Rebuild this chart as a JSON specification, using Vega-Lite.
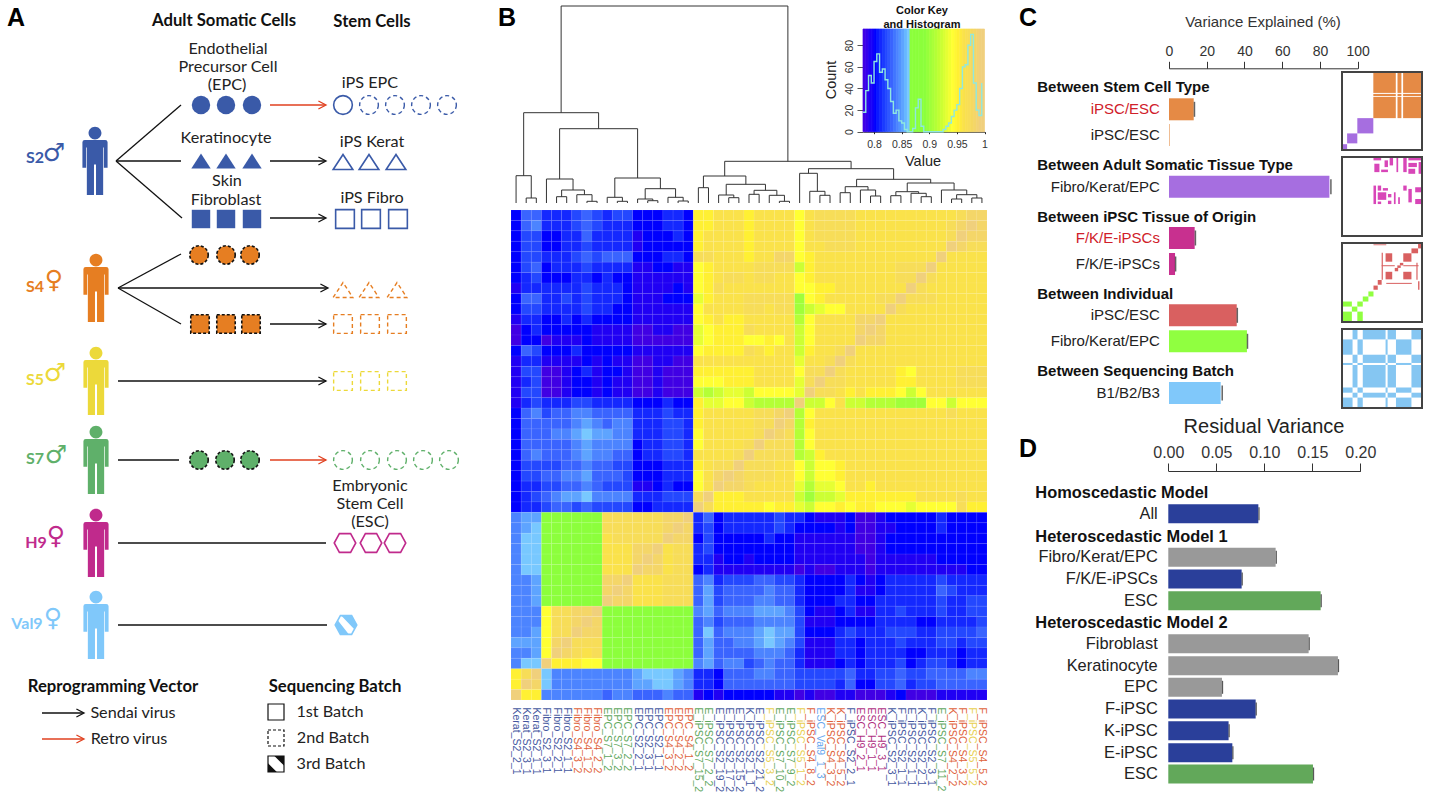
{"$schema":"https://vega.github.io/schema/vega-lite/v6.json","width":1430,"height":800,"padding":0,"autosize":{"type":"none"},"background":"white","config":{"view":{"stroke":null},"legend":{"disable":true}},
"datasets":{
"samples":[{"i":1,"sample":"Kerat_S2_2_1"},{"i":2,"sample":"Kerat_S2_3_1"},{"i":3,"sample":"Kerat_S2_1_1"},{"i":4,"sample":"Fibro_S2_3_1"},{"i":5,"sample":"Fibro_S2_2_1"},{"i":6,"sample":"Fibro_S2_1_1"},{"i":7,"sample":"Fibro_S4_3_2"},{"i":8,"sample":"Fibro_S4_1_2"},{"i":9,"sample":"Fibro_S4_2_2"},{"i":10,"sample":"EPC_S7_1_2"},{"i":11,"sample":"EPC_S7_3_2"},{"i":12,"sample":"EPC_S7_2_2"},{"i":13,"sample":"EPC_S2_2_1"},{"i":14,"sample":"EPC_S2_3_1"},{"i":15,"sample":"EPC_S2_1_1"},{"i":16,"sample":"EPC_S4_3_2"},{"i":17,"sample":"EPC_S4_2_2"},{"i":18,"sample":"EPC_S4_1_2"},{"i":19,"sample":"E_iPSC_S7_15_2"},{"i":20,"sample":"E_iPSC_S7_2_2"},{"i":21,"sample":"E_iPSC_S2_19_2"},{"i":22,"sample":"E_iPSC_S2_17_2"},{"i":23,"sample":"E_iPSC_S2_15_2"},{"i":24,"sample":"K_iPSC_S2_1_1"},{"i":25,"sample":"E_iPSC_S2_21_2"},{"i":26,"sample":"F_iPSC_S5_3_2"},{"i":27,"sample":"E_iPSC_S7_10_2"},{"i":28,"sample":"E_iPSC_S7_9_2"},{"i":29,"sample":"F_iPSC_S5_1_2"},{"i":30,"sample":"F_iPSC_S4_8_2"},{"i":31,"sample":"ESC_Val9_1_3"},{"i":32,"sample":"K_iPSC_S4_3_2"},{"i":33,"sample":"K_iPSC_S4_5_2"},{"i":34,"sample":"F_iPSC_S2_2_1"},{"i":35,"sample":"ESC_H9_2_1"},{"i":36,"sample":"ESC_H9_1_1"},{"i":37,"sample":"ESC_H9_3_1"},{"i":38,"sample":"K_iPSC_S2_3_1"},{"i":39,"sample":"F_iPSC_S2_1_1"},{"i":40,"sample":"E_iPSC_S2_1_1"},{"i":41,"sample":"K_iPSC_S2_2_1"},{"i":42,"sample":"F_iPSC_S2_3_1"},{"i":43,"sample":"E_iPSC_S7_11_2"},{"i":44,"sample":"K_iPSC_S4_2_2"},{"i":45,"sample":"F_iPSC_S4_3_2"},{"i":46,"sample":"F_iPSC_S5_5_2"},{"i":47,"sample":"F_iPSC_S4_5_2"}],
"heat":[
{"r":0,"v":[80,83,83,81,81,81,82,83,82,81,82,82,80,80,80,81,81,80,95,95,96,96,96,95,96,96,96,96,94,96,97,97,97,97,96,96,96,96,96,96,96,96,96,96,97,98,98]},
{"r":1,"v":[80,83,84,81,81,81,82,83,82,81,81,81,80,80,80,81,81,80,95,95,96,96,96,95,96,96,96,96,94,96,97,97,97,97,96,96,96,96,96,96,96,96,96,97,98,99,98]},
{"r":2,"v":[80,82,82,80,80,81,81,83,81,81,81,81,79,80,80,80,81,80,95,96,96,96,96,95,96,96,96,96,94,96,97,97,97,97,96,96,96,96,96,96,96,96,96,97,99,98,98]},
{"r":3,"v":[80,82,82,80,80,81,81,82,81,81,81,81,79,80,80,80,80,80,95,96,96,96,96,95,96,96,96,96,94,96,96,97,97,97,96,96,96,96,96,96,96,96,96,99,98,97,97]},
{"r":4,"v":[80,82,82,81,81,81,82,83,82,83,83,83,80,80,80,81,81,80,97,97,96,96,96,95,96,96,98,98,94,95,96,96,96,96,96,96,96,96,96,96,96,96,99,96,96,96,96]},
{"r":5,"v":[80,82,83,80,81,81,81,82,81,81,81,81,79,79,80,80,79,79,94,95,96,96,96,96,97,97,97,97,92,95,96,96,96,96,96,96,96,96,97,97,97,99,96,96,96,96,96]},
{"r":6,"v":[80,81,82,80,80,80,81,81,80,81,80,80,79,79,79,79,79,79,94,95,96,97,97,96,97,97,96,96,94,95,96,96,96,96,96,96,96,96,97,97,99,97,96,96,96,96,96]},
{"r":7,"v":[79,81,81,81,81,81,81,82,81,81,81,80,79,79,79,79,80,79,94,95,97,96,96,96,96,96,96,96,94,94,95,95,96,96,96,96,96,96,96,99,97,96,96,96,96,96,96]},
{"r":8,"v":[80,83,83,81,81,82,81,82,81,81,81,80,79,79,79,80,80,80,93,95,96,96,96,97,97,97,97,97,90,94,95,96,96,96,96,96,97,97,99,97,97,97,96,96,96,96,96]},
{"r":9,"v":[80,82,82,81,81,81,81,82,81,81,80,80,79,79,79,79,79,79,94,96,96,96,96,97,97,96,97,97,90,92,93,94,94,96,96,96,96,99,97,96,96,96,96,96,96,96,96]},
{"r":10,"v":[79,81,81,80,80,81,80,81,80,80,80,80,79,79,79,79,79,79,94,95,96,95,95,96,96,96,96,96,91,94,96,96,96,96,98,98,99,96,96,96,96,96,96,96,96,96,96]},
{"r":11,"v":[78,80,81,80,80,80,80,80,79,79,79,79,78,78,79,79,78,78,93,94,95,95,95,97,96,96,96,96,92,94,96,96,96,96,98,99,98,96,96,96,96,96,96,96,96,96,96]},
{"r":12,"v":[78,80,80,78,79,79,79,80,79,79,79,79,78,78,78,78,78,78,93,94,95,95,95,94,94,95,94,96,92,94,96,96,96,96,99,98,98,96,96,96,96,96,96,96,96,96,96]},
{"r":13,"v":[80,83,82,80,80,80,81,80,80,80,80,80,79,79,79,79,79,79,94,95,95,95,95,97,96,95,96,96,92,95,96,96,97,99,96,96,96,96,96,96,96,96,96,96,96,96,96]},
{"r":14,"v":[79,81,81,79,79,79,79,80,79,80,79,79,78,78,79,79,78,78,96,96,96,96,96,96,96,96,96,96,93,96,96,97,99,97,96,96,96,96,96,96,96,96,96,96,96,96,96]},
{"r":15,"v":[79,82,82,78,78,79,80,81,79,80,80,79,78,78,79,78,78,78,95,95,95,95,95,95,96,96,96,96,94,97,97,99,97,96,96,96,96,96,95,94,96,96,96,96,97,97,97]},
{"r":16,"v":[79,81,82,78,78,79,80,80,79,80,79,79,78,78,79,78,78,78,94,94,94,95,95,95,96,96,96,96,93,97,99,97,97,96,96,96,96,96,95,95,96,96,96,96,97,97,97]},
{"r":17,"v":[79,82,82,78,78,79,80,80,79,80,79,79,78,78,79,78,78,78,92,91,92,93,93,92,94,94,94,94,93,99,97,97,96,95,96,95,95,95,94,92,94,96,96,96,96,96,96]},
{"r":18,"v":[79,81,82,81,81,81,82,82,81,81,81,81,80,80,80,81,80,80,95,93,93,94,94,92,91,91,91,91,99,92,92,94,96,92,92,91,91,91,90,90,90,94,94,92,94,94,94]},
{"r":19,"v":[80,83,84,82,83,83,84,84,83,83,83,83,81,81,81,82,81,81,95,96,96,96,96,96,97,97,98,99,91,94,96,96,96,96,96,96,96,96,96,96,96,96,96,97,96,96,96]},
{"r":20,"v":[80,83,83,83,83,83,84,85,84,83,84,84,81,81,81,82,82,81,95,96,96,96,96,96,97,97,99,98,91,95,96,96,96,96,96,96,96,96,96,96,96,96,96,96,96,96,96]},
{"r":21,"v":[80,83,83,83,84,84,85,86,85,85,84,84,81,81,81,82,82,81,94,96,96,96,96,96,97,99,98,97,91,94,96,96,96,96,96,96,96,96,96,96,96,96,96,96,96,96,96]},
{"r":22,"v":[80,83,83,83,83,83,84,85,84,84,84,84,80,81,81,82,82,81,94,96,96,96,96,97,99,97,97,97,91,94,96,96,96,96,96,96,96,96,96,96,96,96,96,96,96,96,96]},
{"r":23,"v":[80,83,84,83,83,83,84,85,84,84,83,83,80,81,81,82,82,81,96,96,96,96,97,99,97,97,97,97,91,92,95,96,96,96,96,96,96,96,96,96,96,96,96,96,96,96,96]},
{"r":24,"v":[80,82,82,82,82,83,83,84,83,83,82,82,80,80,80,81,81,81,95,96,97,97,99,97,97,97,96,96,94,92,94,94,95,96,96,96,96,96,96,96,96,96,96,96,96,96,96]},
{"r":25,"v":[80,82,82,83,83,84,84,85,83,83,83,82,80,80,80,81,81,81,94,96,98,99,98,97,97,97,96,96,94,92,94,94,95,96,96,96,96,96,96,96,96,96,96,96,96,96,96]},
{"r":26,"v":[80,81,81,82,82,83,83,84,83,82,82,82,79,79,80,81,80,80,94,96,99,98,98,97,96,96,96,96,93,91,93,93,94,96,96,95,96,96,96,96,96,96,96,96,96,96,96]},
{"r":27,"v":[80,81,82,83,84,85,85,86,84,84,84,84,81,81,81,82,82,82,97,99,95,95,95,96,96,96,96,96,92,90,92,92,93,95,95,95,95,95,95,95,96,96,96,96,97,96,96]},
{"r":28,"v":[80,81,81,82,83,83,82,83,82,82,82,82,80,80,81,81,81,81,99,97,95,95,95,95,95,94,95,95,93,92,94,94,95,94,95,95,94,94,94,93,94,94,94,94,97,95,95]},
{"r":29,"v":[84,85,85,88,88,88,88,88,88,97,97,97,97,97,97,98,98,99,81,83,80,81,81,81,81,81,82,81,81,80,79,79,79,80,78,78,79,80,80,80,80,80,81,80,80,80,80]},
{"r":30,"v":[84,85,86,88,88,88,88,88,88,97,97,97,97,97,97,98,99,98,81,82,80,81,81,81,81,81,82,81,80,80,80,80,79,80,78,78,79,79,80,80,80,80,81,80,80,80,80]},
{"r":31,"v":[84,86,86,88,88,88,88,88,88,96,97,97,97,97,97,99,98,98,80,82,80,80,80,80,80,81,80,80,79,79,79,79,79,79,78,78,79,80,80,80,80,80,80,80,80,80,80]},
{"r":32,"v":[84,86,86,88,88,88,88,88,88,96,96,96,98,98,99,96,97,97,81,82,80,80,80,80,80,80,80,80,79,79,79,79,79,79,78,78,79,80,80,80,80,80,80,80,80,80,80]},
{"r":33,"v":[84,86,86,88,88,88,88,88,88,96,96,96,98,99,98,96,97,97,81,81,79,80,80,79,80,80,80,80,79,79,79,79,79,79,79,78,79,79,79,79,79,79,80,80,80,80,80]},
{"r":34,"v":[84,86,86,88,88,88,88,88,88,96,96,96,99,98,98,96,97,97,80,81,79,79,79,79,79,79,79,79,78,79,78,78,79,79,79,78,79,79,79,79,79,79,79,79,79,80,80]},
{"r":35,"v":[84,84,85,88,88,88,88,88,88,98,98,99,96,96,96,97,97,97,83,84,81,82,82,82,83,83,82,82,81,80,80,80,80,81,80,79,80,81,81,81,81,81,82,81,81,81,81]},
{"r":36,"v":[84,84,85,88,88,88,88,88,88,98,99,98,96,96,96,97,97,97,83,85,82,83,83,83,83,84,83,83,81,80,80,80,80,81,79,79,80,81,81,81,81,81,83,82,81,81,81]},
{"r":37,"v":[84,84,85,88,88,88,88,88,88,99,98,98,96,96,96,97,97,97,83,85,82,83,83,83,84,84,83,83,81,80,80,80,81,81,80,80,81,81,81,81,81,81,82,81,81,82,82]},
{"r":38,"v":[84,84,84,94,97,97,98,98,99,88,88,88,88,88,88,88,88,88,84,85,83,84,84,84,85,85,85,84,82,80,79,79,80,81,79,79,81,81,82,81,81,81,82,81,81,82,82]},
{"r":39,"v":[84,84,84,94,97,97,98,99,98,88,88,88,88,88,88,88,88,88,83,84,82,83,83,83,84,84,84,84,82,79,79,79,80,80,80,80,81,81,81,81,80,80,81,81,81,81,82]},
{"r":40,"v":[84,84,85,94,97,97,99,98,98,88,88,88,88,88,88,88,88,88,83,86,83,84,84,84,85,86,85,85,82,80,80,80,81,82,81,81,81,82,82,82,81,81,82,82,82,82,83]},
{"r":41,"v":[85,85,85,94,98,99,97,97,97,88,88,88,88,88,88,88,88,88,83,85,83,83,84,84,85,86,85,84,82,79,79,79,81,81,80,81,81,81,82,81,81,81,82,82,81,82,82]},
{"r":42,"v":[84,84,85,94,99,98,97,96,97,88,88,88,88,88,88,88,88,88,83,85,83,83,83,83,84,84,84,83,81,79,79,79,81,81,80,81,81,81,81,80,80,81,81,81,80,81,81]},
{"r":43,"v":[84,86,86,99,95,95,95,94,94,88,88,88,88,88,88,88,88,88,84,85,83,84,84,82,83,84,83,83,81,79,79,79,80,81,80,81,81,81,82,80,81,82,82,81,80,81,81]},
{"r":44,"v":[95,97,99,86,84,84,84,84,84,84,84,84,85,86,86,86,85,84,81,81,80,83,83,83,84,84,83,83,82,82,82,82,82,83,81,81,82,82,83,82,82,83,83,83,83,84,84]},
{"r":45,"v":[95,99,98,86,84,84,84,84,84,84,84,84,85,85,86,86,85,84,81,81,80,83,83,83,83,83,83,83,82,82,82,82,81,83,80,80,82,82,83,81,82,82,83,83,83,83,83]},
{"r":46,"v":[99,95,95,84,84,84,84,84,84,83,84,84,83,83,83,84,83,83,79,80,79,80,80,80,80,80,79,79,78,79,78,78,79,79,78,78,78,79,80,78,78,78,79,79,79,79,79]}],
"tree":[{"l":1.5,"r":2.5,"h":5,"hl":0,"hr":0},{"l":0.5,"r":2,"h":27.3,"hl":0,"hr":5},{"l":4.5,"r":5.5,"h":6.3,"hl":0,"hr":0},{"l":7.5,"r":8.5,"h":1.7,"hl":0,"hr":0},{"l":6.5,"r":8,"h":8.3,"hl":0,"hr":1.7},{"l":5,"r":7.25,"h":13,"hl":6.3,"hr":8.3},{"l":3.5,"r":6.125,"h":24,"hl":0,"hr":13},{"l":10.5,"r":11.5,"h":1.7,"hl":0,"hr":0},{"l":9.5,"r":11,"h":5.7,"hl":0,"hr":1.7},{"l":13.5,"r":14.5,"h":2.3,"hl":0,"hr":0},{"l":12.5,"r":14,"h":4,"hl":0,"hr":2.3},{"l":16.5,"r":17.5,"h":2,"hl":0,"hr":0},{"l":15.5,"r":17,"h":5.7,"hl":0,"hr":2},{"l":13.25,"r":16.25,"h":14.3,"hl":4,"hr":5.7},{"l":10.25,"r":14.75,"h":25,"hl":5.7,"hr":14.3},{"l":4.8,"r":12.5,"h":74.3,"hl":24,"hr":25},{"l":1.25,"r":8.65,"h":90.3,"hl":27.3,"hr":74.3},{"l":4.95,"r":27.34,"h":197,"hl":90.3,"hr":41.7},{"l":18.5,"r":19.5,"h":15.3,"hl":0,"hr":0},{"l":21.5,"r":22.5,"h":5.3,"hl":0,"hr":0},{"l":20.5,"r":22,"h":8,"hl":0,"hr":5.3},{"l":23.5,"r":24.5,"h":8.7,"hl":0,"hr":0},{"l":26.5,"r":27.5,"h":1.7,"hl":0,"hr":0},{"l":25.5,"r":27,"h":7.7,"hl":0,"hr":1.7},{"l":24,"r":26.25,"h":12.7,"hl":8.7,"hr":7.7},{"l":21.25,"r":25.125,"h":18.7,"hl":8,"hr":12.7},{"l":19,"r":23.19,"h":27,"hl":15.3,"hr":18.7},{"l":30.5,"r":31.5,"h":7.7,"hl":0,"hr":0},{"l":29.5,"r":31,"h":11.7,"hl":0,"hr":7.7},{"l":28.5,"r":30.25,"h":29.7,"hl":0,"hr":11.7},{"l":32.5,"r":33.5,"h":10.3,"hl":0,"hr":0},{"l":35.5,"r":36.5,"h":7,"hl":0,"hr":0},{"l":34.5,"r":36,"h":13,"hl":0,"hr":7},{"l":33,"r":35.25,"h":16.3,"hl":10.3,"hr":13},{"l":37.5,"r":38.5,"h":7.3,"hl":0,"hr":0},{"l":40.5,"r":41.5,"h":6.3,"hl":0,"hr":0},{"l":39.5,"r":41,"h":9.7,"hl":0,"hr":6.3},{"l":38,"r":40.25,"h":11.3,"hl":7.3,"hr":9.7},{"l":43.5,"r":44.5,"h":4,"hl":0,"hr":0},{"l":45.5,"r":46.5,"h":5,"hl":0,"hr":0},{"l":44,"r":46,"h":8.3,"hl":4,"hr":5},{"l":42.5,"r":45,"h":13,"hl":0,"hr":8.3},{"l":39.125,"r":43.75,"h":20,"hl":11.3,"hr":13},{"l":34.125,"r":41.44,"h":23.7,"hl":16.3,"hr":20},{"l":29.375,"r":37.78,"h":34.3,"hl":29.7,"hr":23.7},{"l":21.1,"r":33.58,"h":41.7,"hl":27,"hr":34.3}],
"hist":[{"v":0.78,"e":0.785,"n":18},{"v":0.785,"e":0.79,"n":38},{"v":0.79,"e":0.795,"n":52},{"v":0.795,"e":0.8,"n":45},{"v":0.8,"e":0.805,"n":65},{"v":0.805,"e":0.81,"n":72},{"v":0.81,"e":0.815,"n":55},{"v":0.815,"e":0.82,"n":58},{"v":0.82,"e":0.825,"n":48},{"v":0.825,"e":0.83,"n":40},{"v":0.83,"e":0.835,"n":28},{"v":0.835,"e":0.84,"n":17},{"v":0.84,"e":0.845,"n":20},{"v":0.845,"e":0.85,"n":10},{"v":0.85,"e":0.855,"n":8},{"v":0.855,"e":0.86,"n":2},{"v":0.86,"e":0.865,"n":0},{"v":0.865,"e":0.87,"n":0},{"v":0.87,"e":0.875,"n":3},{"v":0.875,"e":0.88,"n":22},{"v":0.88,"e":0.885,"n":30},{"v":0.885,"e":0.89,"n":5},{"v":0.89,"e":0.895,"n":0},{"v":0.895,"e":0.9,"n":0},{"v":0.9,"e":0.905,"n":0},{"v":0.905,"e":0.91,"n":0},{"v":0.91,"e":0.915,"n":0},{"v":0.915,"e":0.92,"n":0},{"v":0.92,"e":0.925,"n":0},{"v":0.925,"e":0.93,"n":2},{"v":0.93,"e":0.935,"n":5},{"v":0.935,"e":0.94,"n":8},{"v":0.94,"e":0.945,"n":14},{"v":0.945,"e":0.95,"n":20},{"v":0.95,"e":0.955,"n":25},{"v":0.955,"e":0.96,"n":40},{"v":0.96,"e":0.965,"n":60},{"v":0.965,"e":0.97,"n":62},{"v":0.97,"e":0.975,"n":80},{"v":0.975,"e":0.98,"n":90},{"v":0.98,"e":0.985,"n":45},{"v":0.985,"e":0.99,"n":20},{"v":0.99,"e":0.995,"n":15},{"v":0.995,"e":1,"n":45}],
"cells":[
{"u":201,"v":105,"cell":"circle","who":"S2","s":"fill"},{"u":226,"v":105,"cell":"circle","who":"S2","s":"fill"},{"u":252,"v":105,"cell":"circle","who":"S2","s":"fill"},
{"u":201,"v":161,"cell":"triangle","who":"S2","s":"fill"},{"u":226,"v":161,"cell":"triangle","who":"S2","s":"fill"},{"u":252,"v":161,"cell":"triangle","who":"S2","s":"fill"},
{"u":201,"v":219,"cell":"square","who":"S2","s":"fill"},{"u":226,"v":219,"cell":"square","who":"S2","s":"fill"},{"u":252,"v":219,"cell":"square","who":"S2","s":"fill"},
{"u":199,"v":255,"cell":"circle","who":"S4","s":"fillDash"},{"u":226,"v":255,"cell":"circle","who":"S4","s":"fillDash"},{"u":250,"v":255,"cell":"circle","who":"S4","s":"fillDash"},
{"u":200,"v":324,"cell":"square","who":"S4","s":"fillDash"},{"u":226,"v":324,"cell":"square","who":"S4","s":"fillDash"},{"u":251,"v":324,"cell":"square","who":"S4","s":"fillDash"},
{"u":199,"v":460,"cell":"circle","who":"S7","s":"fillDash"},{"u":225,"v":460,"cell":"circle","who":"S7","s":"fillDash"},{"u":250,"v":460,"cell":"circle","who":"S7","s":"fillDash"},
{"u":343,"v":105,"cell":"circle","who":"S2","s":"open"},{"u":369,"v":105,"cell":"circle","who":"S2","s":"dash"},{"u":395,"v":105,"cell":"circle","who":"S2","s":"dash"},{"u":421,"v":105,"cell":"circle","who":"S2","s":"dash"},{"u":447,"v":105,"cell":"circle","who":"S2","s":"dash"},
{"u":343,"v":162,"cell":"triangle","who":"S2","s":"open"},{"u":369,"v":162,"cell":"triangle","who":"S2","s":"open"},{"u":396,"v":162,"cell":"triangle","who":"S2","s":"open"},
{"u":345,"v":219,"cell":"square","who":"S2","s":"open"},{"u":371,"v":219,"cell":"square","who":"S2","s":"open"},{"u":398,"v":219,"cell":"square","who":"S2","s":"open"},
{"u":343,"v":290,"cell":"triangle","who":"S4","s":"dash"},{"u":369,"v":290,"cell":"triangle","who":"S4","s":"dash"},{"u":397,"v":290,"cell":"triangle","who":"S4","s":"dash"},
{"u":343,"v":324,"cell":"square","who":"S4","s":"dash"},{"u":370,"v":324,"cell":"square","who":"S4","s":"dash"},{"u":397,"v":324,"cell":"square","who":"S4","s":"dash"},
{"u":343,"v":381,"cell":"square","who":"S5","s":"dash"},{"u":370,"v":381,"cell":"square","who":"S5","s":"dash"},{"u":397,"v":381,"cell":"square","who":"S5","s":"dash"},
{"u":343,"v":460,"cell":"circle","who":"S7","s":"dash"},{"u":370,"v":460,"cell":"circle","who":"S7","s":"dash"},{"u":397,"v":460,"cell":"circle","who":"S7","s":"dash"},{"u":423,"v":460,"cell":"circle","who":"S7","s":"dash"},{"u":449,"v":460,"cell":"circle","who":"S7","s":"dash"},
{"u":345,"v":543,"cell":"hexagon","who":"H9","s":"open"},{"u":371,"v":543,"cell":"hexagon","who":"H9","s":"open"},{"u":395,"v":543,"cell":"hexagon","who":"H9","s":"open"},
{"u":346,"v":625,"cell":"hexagon","who":"Val9","s":"open"},{"u":346,"v":625,"cell":"hexband","who":"Val9","s":"fill"}],
"batchKey":[{"u":276,"v":712,"cell":"square","who":"ink","s":"open"},{"u":276,"v":738,"cell":"square","who":"ink","s":"dash"},{"u":276,"v":764,"cell":"square","who":"ink","s":"open"},{"u":276,"v":764,"cell":"corners","who":"ink","s":"fill"}],
"links":[{"u":116,"v":161,"u2":181,"v2":105,"who":"ink"},{"u":116,"v":161,"u2":181,"v2":161,"who":"ink"},{"u":116,"v":161,"u2":182,"v2":218,"who":"ink"},{"u":270,"v":105,"u2":325,"v2":105,"who":"Retro"},{"u":270,"v":161,"u2":325,"v2":161,"who":"ink"},{"u":270,"v":218,"u2":325,"v2":218,"who":"ink"},{"u":118,"v":288,"u2":181,"v2":254,"who":"ink"},{"u":118,"v":288,"u2":327,"v2":288,"who":"ink"},{"u":118,"v":288,"u2":181,"v2":324,"who":"ink"},{"u":270,"v":324,"u2":326,"v2":324,"who":"ink"},{"u":118,"v":381,"u2":326,"v2":381,"who":"ink"},{"u":118,"v":460,"u2":179,"v2":460,"who":"ink"},{"u":270,"v":460,"u2":326,"v2":460,"who":"Retro"},{"u":118,"v":543,"u2":326,"v2":543,"who":"ink"},{"u":118,"v":625,"u2":327,"v2":625,"who":"ink"},{"u":42,"v":713,"u2":83,"v2":713,"who":"ink"},{"u":42,"v":739,"u2":83,"v2":739,"who":"Retro"}],
"heads":[{"u":322,"v":105,"who":"Retro"},{"u":322,"v":161,"who":"ink"},{"u":322,"v":218,"who":"ink"},{"u":324,"v":288,"who":"ink"},{"u":322,"v":324,"who":"ink"},{"u":322,"v":381,"who":"ink"},{"u":322,"v":460,"who":"Retro"},{"u":80,"v":713,"who":"ink"},{"u":80,"v":739,"who":"Retro"}],
"people":[{"u":95,"v":161,"who":"S2"},{"u":96,"v":288,"who":"S4"},{"u":96,"v":381,"who":"S5"},{"u":96,"v":460,"who":"S7"},{"u":96,"v":543,"who":"H9"},{"u":96,"v":625,"who":"Val9"}],
"subjects":[{"u":35,"v":158,"t":"S2","who":"S2"},{"u":35,"v":287,"t":"S4","who":"S4"},{"u":35,"v":380,"t":"S5","who":"S5"},{"u":35,"v":459,"t":"S7","who":"S7"},{"u":36,"v":543,"t":"H9","who":"H9"},{"u":27,"v":624,"t":"Val9","who":"Val9"}],
"genders":[{"u":54,"v":153,"t":"♂","who":"S2"},{"u":54,"v":280,"t":"♀","who":"S4"},{"u":55,"v":373,"t":"♂","who":"S5"},{"u":56,"v":455,"t":"♂","who":"S7"},{"u":56,"v":536,"t":"♀","who":"H9"},{"u":53,"v":618,"t":"♀","who":"Val9"}],
"boldA":[{"u":224,"v":21,"t":"Adult Somatic Cells"},{"u":372,"v":22,"t":"Stem Cells"},{"u":113,"v":687,"t":"Reprogramming Vector"},{"u":335,"v":687,"t":"Sequencing Batch"}],
"plainA":[{"u":228,"v":49,"t":"Endothelial"},{"u":228,"v":67,"t":"Precursor Cell"},{"u":227,"v":85,"t":"(EPC)"},{"u":370,"v":83,"t":"iPS EPC"},{"u":226,"v":138,"t":"Keratinocyte"},{"u":372,"v":142,"t":"iPS Kerat"},{"u":227,"v":181,"t":"Skin"},{"u":226,"v":200,"t":"Fibroblast"},{"u":372,"v":198,"t":"iPS Fibro"},{"u":370,"v":486,"t":"Embryonic"},{"u":370,"v":504,"t":"Stem Cell"},{"u":370,"v":522,"t":"(ESC)"},{"u":133,"v":713,"t":"Sendai virus"},{"u":129,"v":739,"t":"Retro virus"},{"u":330,"v":712,"t":"1st Batch"},{"u":333,"v":738,"t":"2nd Batch"},{"u":331,"v":764,"t":"3rd Batch"}],
"letters":[{"u":16,"v":18,"t":"A"},{"u":507,"v":18,"t":"B"},{"u":1028,"v":18,"t":"C"},{"u":1028,"v":449,"t":"D"}],
"variance":[{"line":109.3,"label":"iPSC/ESC","val":13.1,"err":13.5,"term":"stem","fixed":true},{"line":135,"label":"iPSC/ESC","val":0.5,"err":0.5,"term":"stemR","fixed":false},{"line":186.7,"label":"Fibro/Kerat/EPC","val":85,"err":85.8,"term":"tissue","fixed":false},{"line":238,"label":"F/K/E-iPSCs","val":13.6,"err":14,"term":"origin","fixed":true},{"line":264,"label":"F/K/E-iPSCs","val":3.2,"err":3.5,"term":"origin","fixed":false},{"line":315.3,"label":"iPSC/ESC","val":35.9,"err":36.2,"term":"indA","fixed":false},{"line":341.3,"label":"Fibro/Kerat/EPC","val":41.3,"err":41.6,"term":"indB","fixed":false},{"line":393,"label":"B1/B2/B3","val":27.4,"err":28.2,"term":"batch","fixed":false}],
"varHeads":[{"line":87.3,"label":"Between Stem Cell Type"},{"line":165,"label":"Between Adult Somatic Tissue Type"},{"line":216.7,"label":"Between iPSC Tissue of Origin"},{"line":294,"label":"Between Individual"},{"line":371,"label":"Between Sequencing Batch"}],
"resid":[{"line":513.7,"label":"All","val":0.0938,"err":0.0945,"group":"iPSC"},{"line":557.3,"label":"Fibro/Kerat/EPC","val":0.1118,"err":0.1125,"group":"Adult"},{"line":579,"label":"F/K/E-iPSCs","val":0.0764,"err":0.077,"group":"iPSC"},{"line":600.7,"label":"ESC","val":0.1587,"err":0.1593,"group":"ESC"},{"line":643.7,"label":"Fibroblast","val":0.1462,"err":0.1468,"group":"Adult"},{"line":665.7,"label":"Keratinocyte","val":0.1767,"err":0.1773,"group":"Adult"},{"line":687.3,"label":"EPC","val":0.0559,"err":0.0565,"group":"Adult"},{"line":709,"label":"F-iPSC","val":0.091,"err":0.0916,"group":"iPSC"},{"line":730.7,"label":"K-iPSC","val":0.0628,"err":0.0634,"group":"iPSC"},{"line":752.7,"label":"E-iPSC","val":0.0667,"err":0.0673,"group":"iPSC"},{"line":774,"label":"ESC","val":0.1507,"err":0.1513,"group":"ESC"}],
"residHeads":[{"line":492.7,"label":"Homoscedastic Model"},{"line":536.7,"label":"Heteroscedastic Model 1"},{"line":623,"label":"Heteroscedastic Model 2"}],
"thumbs":[
{"m":1,"a":18.4,"b":31.6,"c":34.4,"d":47,"k":"stem"},{"m":1,"a":32.6,"b":34.9,"c":34.4,"d":47,"k":"stem"},{"m":1,"a":35.9,"b":47,"c":34.4,"d":47,"k":"stem"},{"m":1,"a":18.4,"b":31.6,"c":32.5,"d":33.8,"k":"stem"},{"m":1,"a":32.6,"b":34.9,"c":32.5,"d":33.8,"k":"stem"},{"m":1,"a":35.9,"b":47,"c":32.5,"d":33.8,"k":"stem"},{"m":1,"a":18.4,"b":31.6,"c":19.2,"d":32,"k":"stem"},{"m":1,"a":32.6,"b":34.9,"c":19.2,"d":32,"k":"stem"},{"m":1,"a":35.9,"b":47,"c":19.2,"d":32,"k":"stem"},{"m":1,"a":9,"b":18.4,"c":10,"d":19.2,"k":"tissue"},{"m":1,"a":3,"b":9,"c":4,"d":10,"k":"tissue"},{"m":1,"a":0,"b":3,"c":0,"d":3.5,"k":"tissue"},
{"m":2,"a":18.5,"b":20,"c":19,"d":30,"k":"origin"},{"m":2,"a":21,"b":23,"c":19,"d":20.5,"k":"origin"},{"m":2,"a":21,"b":26,"c":21.5,"d":26,"k":"origin"},{"m":2,"a":21,"b":23,"c":27,"d":30,"k":"origin"},{"m":2,"a":24,"b":27,"c":27,"d":28.5,"k":"origin"},{"m":2,"a":27,"b":29,"c":19,"d":21,"k":"origin"},{"m":2,"a":27,"b":29,"c":23,"d":25,"k":"origin"},{"m":2,"a":30.5,"b":31.5,"c":19,"d":26,"k":"origin"},{"m":2,"a":33,"b":34,"c":19,"d":23,"k":"origin"},{"m":2,"a":36,"b":38,"c":27,"d":30,"k":"origin"},{"m":2,"a":39,"b":41,"c":20,"d":28,"k":"origin"},{"m":2,"a":43,"b":47,"c":19,"d":22,"k":"origin"},{"m":2,"a":43,"b":47,"c":26,"d":29,"k":"origin"},{"m":2,"a":36,"b":38,"c":38,"d":47,"k":"origin"},{"m":2,"a":39,"b":43,"c":37,"d":40,"k":"origin"},{"m":2,"a":39,"b":44,"c":41,"d":43.5,"k":"origin"},{"m":2,"a":39,"b":47,"c":45,"d":47,"k":"origin"},{"m":2,"a":45,"b":47,"c":37,"d":44,"k":"origin"},{"m":2,"a":18.5,"b":23,"c":45,"d":47,"k":"origin"},{"m":2,"a":19,"b":22,"c":38,"d":43,"k":"origin"},{"m":2,"a":23,"b":27,"c":38,"d":39.5,"k":"origin"},{"m":2,"a":25,"b":27,"c":41,"d":45,"k":"origin"},{"m":2,"a":28,"b":30,"c":42,"d":47,"k":"origin"},{"m":2,"a":32,"b":33,"c":38,"d":47,"k":"origin"},
{"m":3,"a":25.6,"b":29.5,"c":35.7,"d":40.7,"k":"indA"},{"m":3,"a":36,"b":40.8,"c":35.7,"d":40.7,"k":"indA"},{"m":3,"a":25.6,"b":29.5,"c":25.2,"d":29.7,"k":"indA"},{"m":3,"a":36,"b":40.8,"c":25.2,"d":29.7,"k":"indA"},{"m":3,"a":40.8,"b":44.7,"c":40.7,"d":43.6,"k":"indA"},{"m":3,"a":44.7,"b":47,"c":43.6,"d":47,"k":"indA"},{"m":3,"a":31,"b":33,"c":30,"d":32,"k":"indA"},{"m":3,"a":34,"b":36,"c":33.5,"d":35,"k":"indA"},{"m":3,"a":32.5,"b":34.5,"c":32,"d":33.5,"k":"indA"},{"m":3,"a":18.5,"b":26,"c":45.5,"d":46,"k":"indA"},{"m":3,"a":23.3,"b":31,"c":33,"d":33.6,"k":"indA"},{"m":3,"a":36,"b":45,"c":33,"d":33.6,"k":"indA"},{"m":3,"a":23.3,"b":24,"c":25,"d":41,"k":"indA"},{"m":3,"a":43.7,"b":44.4,"c":25,"d":35,"k":"indA"},{"m":3,"a":18.5,"b":21,"c":19,"d":21.5,"k":"indA"},{"m":3,"a":21,"b":23.3,"c":22,"d":24.8,"k":"indA"},{"m":3,"a":26,"b":41,"c":22.5,"d":23.1,"k":"indA"},{"m":3,"a":44.7,"b":45.5,"c":19,"d":24,"k":"indA"},
{"m":3,"a":0,"b":5.8,"c":0,"d":6,"k":"indB"},{"m":3,"a":9,"b":12.2,"c":0,"d":6,"k":"indB"},{"m":3,"a":5.8,"b":9,"c":6,"d":9,"k":"indB"},{"m":3,"a":0,"b":5.8,"c":9,"d":12,"k":"indB"},{"m":3,"a":9,"b":12.2,"c":9,"d":12,"k":"indB"},{"m":3,"a":12.2,"b":15.5,"c":12,"d":15,"k":"indB"},{"m":3,"a":15.5,"b":18.5,"c":15,"d":18,"k":"indB"},
{"m":4,"a":6.2,"b":9.1,"c":6.2,"d":9.1,"k":"batch"},{"m":4,"a":12.2,"b":25.6,"c":6.2,"d":9.1,"k":"batch"},{"m":4,"a":26.8,"b":31.7,"c":6.2,"d":9.1,"k":"batch"},{"m":4,"a":40.8,"b":47,"c":6.2,"d":9.1,"k":"batch"},
{"m":4,"a":6.2,"b":9.1,"c":12.2,"d":25.6,"k":"batch"},{"m":4,"a":12.2,"b":25.6,"c":12.2,"d":25.6,"k":"batch"},{"m":4,"a":26.8,"b":31.7,"c":12.2,"d":25.6,"k":"batch"},{"m":4,"a":40.8,"b":47,"c":12.2,"d":25.6,"k":"batch"},
{"m":4,"a":6.2,"b":9.1,"c":26.8,"d":31.7,"k":"batch"},{"m":4,"a":12.2,"b":25.6,"c":26.8,"d":31.7,"k":"batch"},{"m":4,"a":26.8,"b":31.7,"c":26.8,"d":31.7,"k":"batch"},{"m":4,"a":40.8,"b":47,"c":26.8,"d":31.7,"k":"batch"},
{"m":4,"a":6.2,"b":9.1,"c":40.8,"d":47,"k":"batch"},{"m":4,"a":12.2,"b":25.6,"c":40.8,"d":47,"k":"batch"},{"m":4,"a":26.8,"b":31.7,"c":40.8,"d":47,"k":"batch"},{"m":4,"a":40.8,"b":47,"c":40.8,"d":47,"k":"batch"},
{"m":4,"a":0,"b":6.2,"c":0,"d":6.2,"k":"batch"},{"m":4,"a":9.1,"b":12.2,"c":0,"d":6.2,"k":"batch"},{"m":4,"a":25.6,"b":26.8,"c":0,"d":6.2,"k":"batch"},{"m":4,"a":31.7,"b":40.8,"c":0,"d":6.2,"k":"batch"},
{"m":4,"a":0,"b":6.2,"c":9.1,"d":12.2,"k":"batch"},{"m":4,"a":9.1,"b":12.2,"c":9.1,"d":12.2,"k":"batch"},{"m":4,"a":25.6,"b":26.8,"c":9.1,"d":12.2,"k":"batch"},{"m":4,"a":31.7,"b":40.8,"c":9.1,"d":12.2,"k":"batch"},
{"m":4,"a":0,"b":6.2,"c":25.6,"d":26.8,"k":"batch"},{"m":4,"a":9.1,"b":12.2,"c":25.6,"d":26.8,"k":"batch"},{"m":4,"a":25.6,"b":26.8,"c":25.6,"d":26.8,"k":"batch"},{"m":4,"a":31.7,"b":40.8,"c":25.6,"d":26.8,"k":"batch"},
{"m":4,"a":0,"b":6.2,"c":31.7,"d":40.8,"k":"batch"},{"m":4,"a":9.1,"b":12.2,"c":31.7,"d":40.8,"k":"batch"},{"m":4,"a":25.6,"b":26.8,"c":31.7,"d":40.8,"k":"batch"},{"m":4,"a":31.7,"b":40.8,"c":31.7,"d":40.8,"k":"batch"}]
},
"layer":[
{"encoding":{"x":{"field":"u","type":"quantitative","scale":{"domain":[0,1430],"range":[0,1430]},"axis":null},"y":{"field":"v","type":"quantitative","scale":{"domain":[0,800],"range":[0,800]},"axis":null},"color":{"field":"who","type":"nominal","scale":{"domain":["S2","S4","S5","S7","H9","Val9","ink","Retro"],"range":["#3a5aa8","#e67e22","#ecd93a","#5fb06a","#c02a8c","#80c8fa","#111111","#e0401f"]}}},
"layer":[
{"data":{"name":"links"},"mark":{"type":"rule","strokeWidth":1.3},"encoding":{"x2":{"field":"u2"},"y2":{"field":"v2"}}},
{"data":{"name":"heads"},"mark":{"type":"point","shape":"M-.9,-1L1,0L-.9,1","filled":false,"size":64,"strokeWidth":1.3,"opacity":1}},
{"data":{"name":"people"},"mark":{"type":"point","shape":"M-.19,-.82a.19,.19 0 1,0 .38,0a.19,.19 0 1,0 -.38,0ZM-.3,-.62L.3,-.62Q.37,-.62 .37,-.55L.37,.2L.26,.2L.26,-.4L.24,-.4L.24,1L.03,1L.03,.1L-.03,.1L-.03,1L-.24,1L-.24,-.4L-.26,-.4L-.26,.2L-.37,.2L-.37,-.55Q-.37,-.62 -.3,-.62Z","filled":true,"size":4624,"opacity":1}},
{"encoding":{"shape":{"field":"cell","type":"nominal","scale":{"domain":["circle","triangle","square","hexagon","hexband","corners"],"range":["circle","M-1.05,.8L0,-.8L1.05,.8Z","square","M-1.15,0L-.6,-1L.6,-1L1.15,0L.6,1L-.6,1Z","M-.5,-1L.6,-1L1.15,0L.9,.45ZM-1.15,0L-.85,-.45L.3,1L-.6,1Z","M-1,-.1L.1,1L-1,1ZM-.2,-1L1,-1L1,.2Z"]}}},
"layer":[
{"data":{"name":"cells"},"transform":[{"filter":"datum.s=='fill'"}],"mark":{"type":"point","filled":true,"size":340,"opacity":1}},
{"data":{"name":"cells"},"transform":[{"filter":"datum.s=='fillDash'"}],"mark":{"type":"point","filled":true,"size":340,"opacity":1,"stroke":"#111","strokeWidth":1.6,"strokeDash":[3,2]}},
{"data":{"name":"cells"},"transform":[{"filter":"datum.s=='open'"}],"mark":{"type":"point","filled":false,"size":350,"opacity":1,"strokeWidth":1.6}},
{"data":{"name":"cells"},"transform":[{"filter":"datum.s=='dash'"}],"mark":{"type":"point","filled":false,"size":350,"opacity":1,"strokeWidth":1.4,"strokeDash":[4,3]}},
{"data":{"name":"batchKey"},"transform":[{"filter":"datum.s=='open'"}],"mark":{"type":"point","filled":false,"size":256,"opacity":1,"strokeWidth":1.2}},
{"data":{"name":"batchKey"},"transform":[{"filter":"datum.s=='dash'"}],"mark":{"type":"point","filled":false,"size":256,"opacity":1,"strokeWidth":1.2,"strokeDash":[3,2]}},
{"data":{"name":"batchKey"},"transform":[{"filter":"datum.s=='fill'"}],"mark":{"type":"point","filled":true,"size":256,"opacity":1}}
]},
{"data":{"name":"subjects"},"mark":{"type":"text","font":"Lato","fontWeight":"bold","fontSize":16},"encoding":{"text":{"field":"t"}}},
{"data":{"name":"genders"},"mark":{"type":"text","font":"DejaVu Sans","fontSize":25},"encoding":{"text":{"field":"t"}}},
{"data":{"name":"boldA"},"mark":{"type":"text","font":"Lato","fontWeight":"bold","fontSize":16.7},"encoding":{"color":{"value":"#111"},"text":{"field":"t"}}},
{"data":{"name":"plainA"},"mark":{"type":"text","font":"Lato","fontSize":16.2},"encoding":{"color":{"value":"#222"},"text":{"field":"t"}}},
{"data":{"name":"letters"},"mark":{"type":"text","font":"Liberation Sans","fontWeight":"bold","fontSize":25},"encoding":{"color":{"value":"#000"},"text":{"field":"t"}}},
{"data":{"values":[{"u":922,"v":10.7,"t":"Color Key"},{"u":922,"v":25,"t":"and Histogram"}]},"mark":{"type":"text","font":"Liberation Sans","fontWeight":"bold","fontSize":11},"encoding":{"color":{"value":"#111"},"text":{"field":"t"}}},
{"data":{"values":[{"u":923,"v":161.7,"t":"Value"}]},"mark":{"type":"text","font":"Liberation Sans","fontSize":14.5},"encoding":{"color":{"value":"#222"},"text":{"field":"t"}}},
{"data":{"values":[{"u":832,"v":80,"t":"Count"}]},"mark":{"type":"text","font":"Liberation Sans","fontSize":14.5,"angle":270},"encoding":{"color":{"value":"#222"},"text":{"field":"t"}}},
{"data":{"values":[{"u":1263,"v":22,"t":"Variance Explained (%)"}]},"mark":{"type":"text","font":"Liberation Sans","fontSize":15},"encoding":{"color":{"value":"#333"},"text":{"field":"t"}}},
{"data":{"values":[{"u":1264,"v":427,"t":"Residual Variance"}]},"mark":{"type":"text","font":"Liberation Sans","fontSize":20},"encoding":{"color":{"value":"#222"},"text":{"field":"t"}}}
]},
{"data":{"name":"heat"},"transform":[{"flatten":["v"]},{"window":[{"op":"row_number","as":"c"}],"groupby":["r"]},{"lookup":"c","from":{"data":{"name":"samples"},"key":"i","fields":["sample"]}}],
"mark":{"type":"rect","stroke":"#ffffff","strokeWidth":0.5,"strokeOpacity":0.12},
"encoding":{"x":{"field":"sample","type":"nominal","sort":{"field":"c","op":"min"},"scale":{"range":[511,987],"paddingInner":0,"paddingOuter":0},"axis":{"orient":"bottom","offset":-100,"title":null,"domain":false,"ticks":false,"labelAngle":90,"labelAlign":"left","labelBaseline":"middle","labelPadding":7,"labelFontSize":10.5,"labelFont":"Liberation Sans","labelOverlap":false,"labelLimit":0,"labelColor":{"condition":[{"test":"indexof(datum.value,'S2')>=0","value":"#45589f"},{"test":"indexof(datum.value,'S4')>=0","value":"#e0623a"},{"test":"indexof(datum.value,'S5')>=0","value":"#e8d050"},{"test":"indexof(datum.value,'S7')>=0","value":"#5fa860"},{"test":"indexof(datum.value,'H9')>=0","value":"#b0307f"}],"value":"#6aa8ef"}}},
"y":{"field":"r","type":"ordinal","scale":{"range":[210,700],"paddingInner":0,"paddingOuter":0},"axis":null},
"color":{"field":"v","type":"quantitative","scale":{"domain":[78,79,80,81,82,83,84,85,86,87,89,90,91,92,93,94,95,96,97,98,99,100],"range":["#4000e4","#2000f4","#0000ff","#1428ff","#2448ff","#3a64ff","#4c84ff","#5ea4ff","#78c8ff","#8cff3c","#8cff3c","#a0ff3a","#b4ff36","#ccff33","#e6ff33","#ffff33","#fff033","#fae24a","#f7dd58","#f4d668","#f0d07c","#f0d080"]}}}},
{"data":{"name":"tree"},"encoding":{"x":{"field":"l","type":"quantitative","scale":{"domain":[0,47],"range":[511,987]},"axis":null},"y":{"field":"h","type":"quantitative","scale":{"domain":[0,197],"range":[203,6]},"axis":null}},
"layer":[{"mark":{"type":"rule","color":"#333","strokeWidth":1},"encoding":{"x2":{"field":"r"}}},{"mark":{"type":"rule","color":"#333","strokeWidth":1},"encoding":{"y2":{"field":"hl"}}},{"mark":{"type":"rule","color":"#333","strokeWidth":1},"encoding":{"x":{"field":"r","type":"quantitative"},"y2":{"field":"hr"}}}]},
{"data":{"name":"hist"},"encoding":{"x":{"field":"v","type":"quantitative","scale":{"domain":[0.78,1],"range":[863,984.5]},"axis":{"orient":"bottom","offset":-668.3,"title":null,"values":[0.8,0.85,0.9,0.95,1],"format":"~g","tickSize":2,"labelFontSize":10.5,"labelFont":"Liberation Sans","labelColor":"#333","domainColor":"#222","tickColor":"#222","grid":false,"labelFlush":false,"labelPadding":6}},
"y":{"field":"n","type":"quantitative","scale":{"domain":[0,95],"range":[131.7,29]},"axis":{"orient":"left","offset":-863,"title":null,"values":[0,20,40,60,80],"domain":false,"tickSize":6,"labelAngle":-90,"labelAlign":"center","labelBaseline":"bottom","labelFontSize":10.5,"labelFont":"Liberation Sans","labelColor":"#333","tickColor":"#555","grid":false,"labelPadding":3}}},
"layer":[{"mark":{"type":"rect","strokeWidth":0.7},"encoding":{"x2":{"field":"e"},"y":{"datum":0},"y2":{"datum":95},"color":{"field":"v","type":"quantitative","scale":{"domain":[0.78,0.79,0.8,0.81,0.82,0.83,0.84,0.85,0.86,0.865,0.89,0.9,0.91,0.92,0.93,0.94,0.95,0.96,0.97,0.98,0.99,1],"range":["#4000e4","#2000f4","#0000ff","#1428ff","#2448ff","#3a64ff","#4c84ff","#5ea4ff","#78c8ff","#8cff3c","#8cff3c","#a0ff3a","#b4ff36","#ccff33","#e6ff33","#ffff33","#fff033","#fae24a","#f7dd58","#f4d668","#f0d07c","#f0d080"]}},"stroke":{"field":"v","type":"quantitative","scale":{"domain":[0.78,0.79,0.8,0.81,0.82,0.83,0.84,0.85,0.86,0.865,0.89,0.9,0.91,0.92,0.93,0.94,0.95,0.96,0.97,0.98,0.99,1],"range":["#4000e4","#2000f4","#0000ff","#1428ff","#2448ff","#3a64ff","#4c84ff","#5ea4ff","#78c8ff","#8cff3c","#8cff3c","#a0ff3a","#b4ff36","#ccff33","#e6ff33","#ffff33","#fff033","#fae24a","#f7dd58","#f4d668","#f0d07c","#f0d080"]}}}},
{"mark":{"type":"line","interpolate":"step-after","color":"#8fe8e0","strokeWidth":1.4}}]},
{"encoding":{"y":{"field":"line","type":"quantitative","scale":{"domain":[0,800],"range":[0,800],"padding":0},"axis":null}},
"layer":[
{"data":{"name":"variance"},"mark":{"type":"bar","orient":"horizontal","size":22},"encoding":{"x":{"field":"val","type":"quantitative","scale":{"domain":[0,100],"range":[1169,1357.7]},"axis":{"orient":"top","offset":-68.3,"title":null,"values":[0,20,40,60,80,100],"tickSize":7,"labelFontSize":14,"labelFont":"Liberation Sans","labelColor":"#333","domainColor":"#333","tickColor":"#333","grid":false,"labelPadding":3,"labelFlush":false}},"color":{"field":"term","type":"nominal","scale":{"domain":["stem","stemR","tissue","origin","indA","indB","batch"],"range":["#e58a45","#efb98e","#a66ee0","#c8308f","#d96060","#90ff40","#80c8fa"]}}}},
{"data":{"name":"variance"},"transform":[{"filter":"datum.err>1"}],"mark":{"type":"tick","orient":"vertical","size":15,"thickness":1.5,"color":"#222"},"encoding":{"x":{"field":"err","type":"quantitative"}}},
{"data":{"name":"variance"},"mark":{"type":"text","align":"right","font":"Liberation Sans","fontSize":15},"encoding":{"x":{"datum":-4.8},"text":{"field":"label"},"color":{"condition":{"test":"datum.fixed","value":"#d0202a"},"value":"#222"}}},
{"data":{"name":"varHeads"},"mark":{"type":"text","align":"left","font":"Liberation Sans","fontWeight":"bold","fontSize":15,"color":"#111"},"encoding":{"x":{"datum":-69.8},"text":{"field":"label"}}}
]},
{"data":{"name":"thumbs"},"transform":[{"filter":"datum.m==1"}],"encoding":{"x":{"field":"a","type":"quantitative","scale":{"domain":[0,47],"range":[1342,1422]},"axis":null},"y":{"field":"c","type":"quantitative","scale":{"domain":[0,47],"range":[150,72]},"axis":null}},"layer":[{"mark":{"type":"rect"},"encoding":{"x2":{"field":"b"},"y2":{"field":"d"},"color":{"field":"k","type":"nominal","scale":{"domain":["stem","tissue"],"range":["#e58a45","#a66ee0"]}}}},{"mark":{"type":"rect","fillOpacity":0,"stroke":"#444","strokeWidth":1.2},"encoding":{"x":{"datum":0},"x2":{"datum":47},"y":{"datum":0},"y2":{"datum":47}}}]},
{"data":{"name":"thumbs"},"transform":[{"filter":"datum.m==2"}],"encoding":{"x":{"field":"a","type":"quantitative","scale":{"domain":[0,47],"range":[1342,1422]},"axis":null},"y":{"field":"c","type":"quantitative","scale":{"domain":[0,47],"range":[236,157]},"axis":null}},"layer":[{"mark":{"type":"rect"},"encoding":{"x2":{"field":"b"},"y2":{"field":"d"},"color":{"field":"k","type":"nominal","scale":{"domain":["origin"],"range":["#d846b8"]}}}},{"mark":{"type":"rect","fillOpacity":0,"stroke":"#444","strokeWidth":1.2},"encoding":{"x":{"datum":0},"x2":{"datum":47},"y":{"datum":0},"y2":{"datum":47}}}]},
{"data":{"name":"thumbs"},"transform":[{"filter":"datum.m==3"}],"encoding":{"x":{"field":"a","type":"quantitative","scale":{"domain":[0,47],"range":[1342,1422]},"axis":null},"y":{"field":"c","type":"quantitative","scale":{"domain":[0,47],"range":[321.7,242.7]},"axis":null}},"layer":[{"mark":{"type":"rect"},"encoding":{"x2":{"field":"b"},"y2":{"field":"d"},"color":{"field":"k","type":"nominal","scale":{"domain":["indA","indB"],"range":["#d96060","#90ff40"]}}}},{"mark":{"type":"rect","fillOpacity":0,"stroke":"#444","strokeWidth":1.2},"encoding":{"x":{"datum":0},"x2":{"datum":47},"y":{"datum":0},"y2":{"datum":47}}}]},
{"data":{"name":"thumbs"},"transform":[{"filter":"datum.m==4"}],"encoding":{"x":{"field":"a","type":"quantitative","scale":{"domain":[0,47],"range":[1342,1422]},"axis":null},"y":{"field":"c","type":"quantitative","scale":{"domain":[0,47],"range":[408,329]},"axis":null}},"layer":[{"mark":{"type":"rect"},"encoding":{"x2":{"field":"b"},"y2":{"field":"d"},"color":{"field":"k","type":"nominal","scale":{"domain":["batch"],"range":["#85c6f2"]}}}},{"mark":{"type":"rect","fillOpacity":0,"stroke":"#444","strokeWidth":1.2},"encoding":{"x":{"datum":0},"x2":{"datum":47},"y":{"datum":0},"y2":{"datum":47}}}]},
{"encoding":{"y":{"field":"line","type":"quantitative","scale":{"domain":[0,800],"range":[0,800],"padding":0},"axis":null}},
"layer":[
{"data":{"name":"resid"},"mark":{"type":"bar","orient":"horizontal","size":19},"encoding":{"x":{"field":"val","type":"quantitative","scale":{"domain":[0,0.2],"range":[1168.3,1360.3]},"axis":{"orient":"top","offset":-471,"title":null,"values":[0,0.05,0.1,0.15,0.2],"format":".2f","tickSize":8,"labelFontSize":16,"labelFont":"Liberation Sans","labelColor":"#333","domainColor":"#333","tickColor":"#333","grid":false,"labelPadding":3,"labelFlush":false}},"color":{"field":"group","type":"nominal","scale":{"domain":["iPSC","Adult","ESC"],"range":["#2a3f9a","#999999","#62a85a"]}}}},
{"data":{"name":"resid"},"mark":{"type":"tick","orient":"vertical","size":13,"thickness":1.2,"color":"#111"},"encoding":{"x":{"field":"err","type":"quantitative"}}},
{"data":{"name":"resid"},"mark":{"type":"text","align":"right","font":"Liberation Sans","fontSize":16.4,"color":"#222"},"encoding":{"x":{"datum":-0.011},"text":{"field":"label"}}},
{"data":{"name":"residHeads"},"mark":{"type":"text","align":"left","font":"Liberation Sans","fontWeight":"bold","fontSize":16.4,"color":"#111"},"encoding":{"x":{"datum":-0.1385},"text":{"field":"label"}}}
]}
],
"resolve":{"scale":{"x":"independent","y":"independent","color":"independent","shape":"independent","stroke":"independent"},"axis":{"x":"independent","y":"independent"}}}
